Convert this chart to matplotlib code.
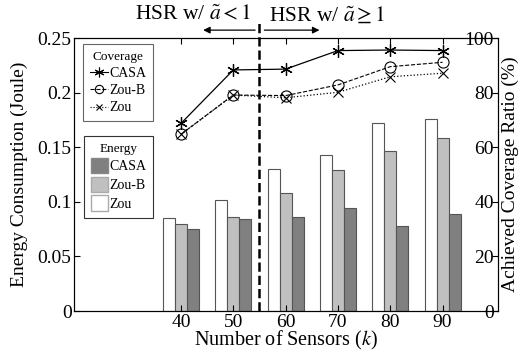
import numpy as np
import matplotlib.pyplot as plt
from matplotlib.patches import Patch
from matplotlib.lines import Line2D

plt.rcParams['font.family'] = ['Liberation Serif', 'DejaVu Serif']
plt.rcParams['mathtext.fontset'] = 'stix'

sensors = [40, 50, 60, 70, 80, 90]

# energy consumption (Joule)
energy_zou = [0.085, 0.102, 0.130, 0.143, 0.172, 0.176]
energy_zoub = [0.080, 0.0865, 0.108, 0.129, 0.147, 0.159]
energy_casa = [0.075, 0.0845, 0.086, 0.094, 0.078, 0.0885]

# achieved coverage ratio (%)
cov_casa = [68.8, 88.4, 88.7, 95.5, 95.7, 95.5]
cov_zoub = [64.8, 79.2, 79.0, 82.9, 89.6, 91.2]
cov_zou = [64.8, 79.2, 78.2, 80.2, 85.9, 87.2]

fig = plt.figure(figsize=(5.25, 3.56), dpi=100)
ax1 = fig.add_axes([0.1415, 0.1264, 0.8071, 0.766])
ax2 = ax1.twinx()

x = np.array(sensors, dtype=float)
w = 2.3
ec = '#555555'
ax1.bar(x - w, energy_zou, w, color='white', edgecolor=ec, linewidth=0.8)
ax1.bar(x, energy_zoub, w, color='#c0c0c0', edgecolor=ec, linewidth=0.8)
ax1.bar(x + w, energy_casa, w, color='#808080', edgecolor=ec, linewidth=0.8)

ast = (6, 2, 0)
ax2.plot(sensors, cov_casa, '-', color='black', lw=0.9, marker=ast, ms=9, mew=0.9)
ax2.plot(sensors, cov_zoub, '--', color='black', lw=0.8, marker='o', ms=8,
         mfc='none', mew=0.8)
ax2.plot(sensors, cov_zou, ':', color='black', lw=0.9, marker='x', ms=7, mew=0.8)

ax1.set_xlim(19.6, 100.6)
ax1.set_ylim(0, 0.25)
ax2.set_ylim(0, 100)
ax1.set_xticks(sensors)
ax1.set_yticks([0, 0.05, 0.1, 0.15, 0.2, 0.25])
ax1.set_yticklabels(['0', '0.05', '0.1', '0.15', '0.2', '0.25'])
ax2.set_yticks([0, 20, 40, 60, 80, 100])

ax1.tick_params(direction='in', top=True, right=False, labelsize=14, length=4, pad=2)
ax2.tick_params(direction='in', labelsize=14, length=4, pad=-3)
for lbl in ax2.get_yticklabels():
    lbl.set_horizontalalignment('right')

ax1.set_xlabel('Number of Sensors ($k$)', fontsize=14.5, labelpad=-1)
ax1.set_ylabel('Energy Consumption (Joule)', fontsize=14, labelpad=7)
ax2.set_ylabel('Achieved Coverage Ratio (%)', fontsize=14, labelpad=3)

# threshold line
ax2.plot([55, 55], [0, 105.5], '--', color='black', lw=1.8, clip_on=False)
ax2.annotate('', xy=(43.7, 103.0), xytext=(54.7, 103.0),
             arrowprops=dict(arrowstyle='-|>', color='black', lw=0.9), annotation_clip=False)
ax2.annotate('', xy=(67.0, 103.0), xytext=(55.4, 103.0),
             arrowprops=dict(arrowstyle='-|>', color='black', lw=0.9), annotation_clip=False)
ax2.text(53.4, 108.5, r'HSR w/ $\tilde{a} < 1$', ha='right', va='center', fontsize=15.5)
ax2.text(56.8, 108.5, r'HSR w/ $\tilde{a} \geq 1$', ha='left', va='center', fontsize=15.5)

cov_handles = [
    Line2D([], [], color='black', ls='-', lw=0.8, marker=ast, ms=7, mew=0.8),
    Line2D([], [], color='black', ls='--', lw=0.8, marker='o', ms=6, mfc='none', mew=0.8),
    Line2D([], [], color='black', ls=':', lw=0.8, marker='x', ms=5, mew=0.8),
]
leg1 = ax2.legend(cov_handles, ['CASA', 'Zou-B', 'Zou'], title='Coverage',
                  loc='upper left', bbox_to_anchor=(0.02, 0.979), borderaxespad=0,
                  fontsize=10, title_fontsize=9.5, fancybox=False, framealpha=1,
                  edgecolor='#666666', handlelength=1.3, handletextpad=0.1,
                  labelspacing=0.3, borderpad=0.5)
leg1.get_frame().set_linewidth(0.8)
ax2.add_artist(leg1)

en_handles = [
    Patch(facecolor='#808080', edgecolor='#888888'),
    Patch(facecolor='#c0c0c0', edgecolor='#aaaaaa'),
    Patch(facecolor='white', edgecolor='#aaaaaa'),
]
leg2 = ax2.legend(en_handles, ['CASA', 'Zou-B', 'Zou'], title='Energy',
                  loc='upper left', bbox_to_anchor=(0.0236, 0.643), borderaxespad=0,
                  fontsize=10, title_fontsize=9.5, fancybox=False, framealpha=1,
                  edgecolor='#333333', handlelength=1.2, handleheight=1.3,
                  handletextpad=0.1, labelspacing=0.25, borderpad=0.5)
leg2.get_frame().set_linewidth(0.8)

fig.savefig('out.png', dpi=100)
